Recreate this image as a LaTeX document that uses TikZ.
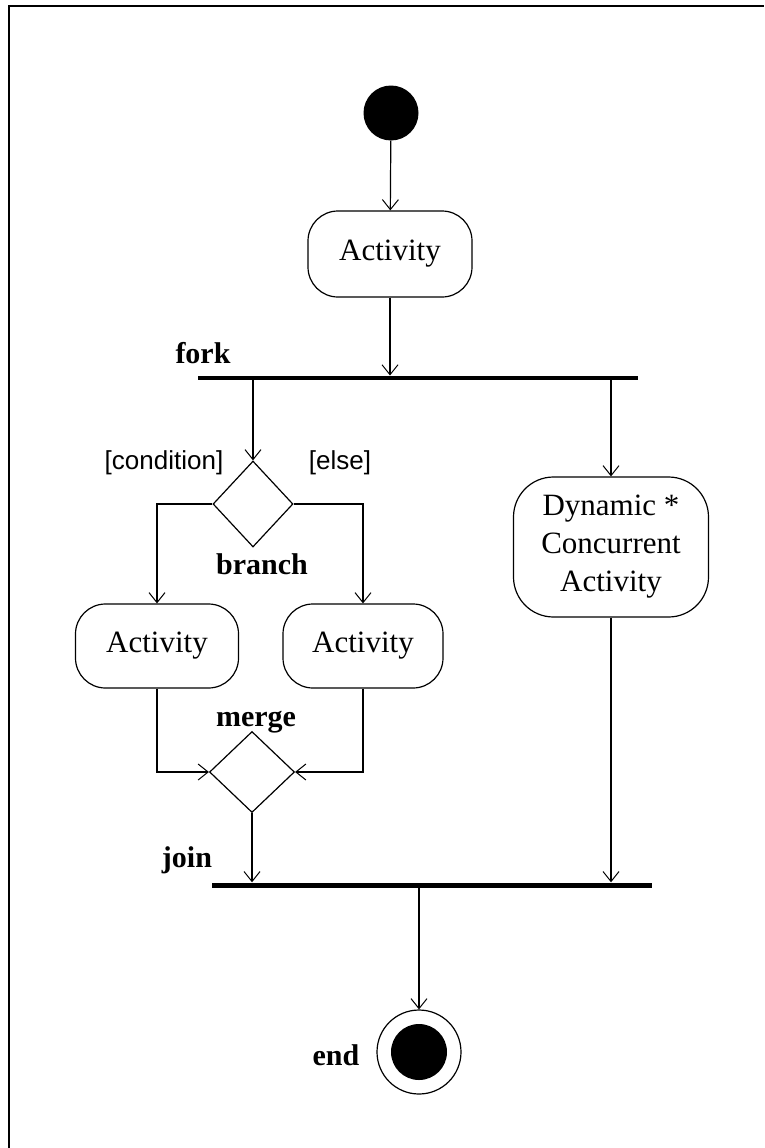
\documentclass[tikz,border=0pt]{standalone}
\usepackage{fontspec}
\setmainfont{Liberation Serif}
\newfontfamily\guardfont{Liberation Sans}
\usetikzlibrary{arrows.meta,shapes.geometric}
\tikzset{
  ln/.style={line width=1.2pt},
  arr/.style={ln,-{Straight Barb[length=10pt,width=16pt,line width=1pt]}},
  actbox/.style={draw,ln,rounded corners=30pt,inner sep=0pt,font=\fontsize{31}{38}\selectfont,align=center},
  bar/.style={fill=black,inner sep=0pt,minimum height=4.5pt},
  dia/.style={diamond,draw,ln,inner sep=0pt},
  lbl/.style={font=\fontsize{30}{36}\selectfont\bfseries,anchor=base,inner sep=0pt},
  guard/.style={font=\guardfont\fontsize{26}{30}\selectfont,inner sep=0pt}
}
\begin{document}
\begin{tikzpicture}[x=1pt,y=-1pt]
\useasboundingbox (0,0) rectangle (764,1148);
\fill[white] (0,0) rectangle (764,1148);
% frame (top and left edges)
\draw[line width=2pt] (9,1148) -- (9,6) -- (764,6);

\node[circle,fill=black,inner sep=0pt,minimum size=55pt] (start) at (391,113) {};
\node[actbox,minimum width=164pt,minimum height=86pt] (a1) at (390,254) {Activity};
\node[bar,minimum width=440pt] (fork) at (418,378) {};
\node[lbl] (forkl) at (203,363) {fork};

\node[dia,minimum width=80pt,minimum height=86pt] (br) at (253,504) {};
\node[lbl] (brl) at (262,574) {branch};
\node[guard] (cond) at (164,463) {[condition]};
\node[guard] (else) at (340,463) {[else]};

\node[actbox,minimum width=163pt,minimum height=84pt] (a2) at (157,646) {Activity};
\node[actbox,minimum width=160pt,minimum height=84pt] (a3) at (363,646) {Activity};
\node[actbox,rounded corners=40pt,minimum width=195pt,minimum height=140pt] (dyn) at (611,547) {Dynamic *\\Concurrent\\Activity};

\node[dia,minimum width=85pt,minimum height=81pt] (mg) at (252,772) {};
\node[lbl] (mgl) at (256,726) {merge};

\node[bar,minimum width=440pt,minimum height=5pt] (join) at (432,885) {};
\node[lbl] (joinl) at (187,867) {join};

\node[circle,draw,ln,inner sep=0pt,minimum size=84pt] (end) at (419,1052) {};
\node[circle,fill=black,inner sep=0pt,minimum size=56pt] (endin) at (419,1052) {};
\node[lbl] (endl) at (336,1065) {end};

\draw[arr] (start) -- (a1);
\draw[arr] (a1) -- (a1.south |- fork.north);
\draw[arr] (fork.south -| br.north) -- (br.north);
\draw[arr] (fork.south -| dyn.north) -- (dyn.north);
\draw[arr] (br.west) -| (a2.north);
\draw[arr] (br.east) -| (a3.north);
\draw[arr] (a2.south) |- (mg.west);
\draw[arr] (a3.south) |- (mg.east);
\draw[arr] (mg.south) -- (mg.south |- join.north);
\draw[arr] (dyn.south) -- (dyn.south |- join.north);
\draw[arr] (join.south -| end.north) -- (end.north);
\end{tikzpicture}
\end{document}
